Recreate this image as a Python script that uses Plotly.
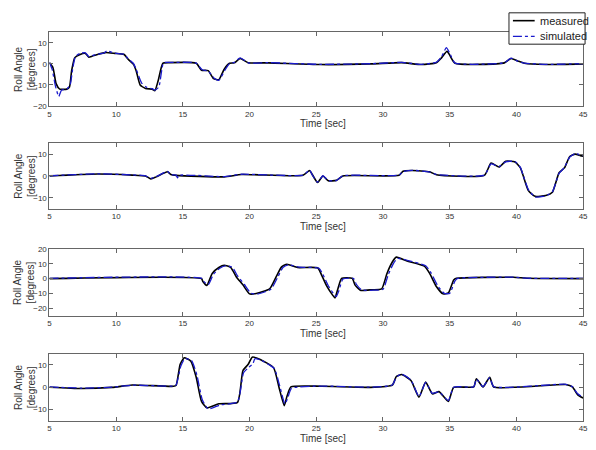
import plotly.graph_objects as go

# ---------------- data ----------------
t1_meas = [5, 5.26, 5.5, 5.77, 6.3, 6.5, 6.67, 6.9, 7.3, 7.7, 7.95, 8.2, 8.6, 9.2, 9.9, 10.6, 10.9, 11.3, 11.5, 11.8, 12.2, 12.7, 12.9, 13.15, 13.5, 14, 16, 16.4, 16.9, 17.3, 17.7, 18.1, 18.5, 18.85, 19.3, 19.9, 21.4, 25.3, 29.1, 31.4, 32.9, 34, 34.4, 34.8, 35, 35.4, 39.1, 39.6, 40.1, 40.6, 42.2, 45]
v1_meas = [0.5, -1.7, -9.4, -12, -12, -11, -3, 3, 4.5, 5, 3.2, 3.7, 4.5, 5.4, 5, 4.5, 2.2, -0.2, -3.2, -10, -11.7, -12, -12.8, -8, 0.3, 0.6, 0.3, -3, -3.2, -7, -7.5, -2.5, 0.3, 0.5, 2.6, 0.6, 0.5, -0.3, 0, 0.6, -0.3, 0.6, 3, 6, 4.2, 0.3, 0.5, 2.6, 1.4, 0.3, -0.3, 0]
t1_sim = [5, 5.2, 5.45, 5.7, 5.9, 6.3, 6.55, 6.75, 6.95, 7.3, 7.7, 7.95, 8.2, 8.6, 9.1, 9.3, 9.9, 10.6, 10.9, 11.3, 11.5, 11.9, 12.3, 12.7, 12.9, 13.2, 13.55, 14, 16, 16.45, 16.9, 17.35, 17.7, 18.15, 18.5, 18.85, 19.3, 19.9, 21.4, 25.3, 29.1, 31.4, 32.9, 34, 34.4, 34.75, 35.05, 35.4, 39.1, 39.6, 40.1, 40.6, 42.2, 45]
v1_sim = [0.8, -2.5, -10.5, -15.5, -12.5, -12, -10, -2, 3.5, 5, 5.3, 3.5, 3.9, 4.6, 5.2, 6.2, 5.1, 4.6, 2.5, 0.2, -2.5, -9, -11.2, -11.8, -12.5, -11, 0.5, 0.7, 0.4, -2.8, -3.4, -6.8, -7.8, -3, 0.2, 0.7, 2.9, 0.5, 0.6, -0.2, 0.1, 0.7, -0.2, 0.8, 3.5, 7.8, 4.5, 0.4, 0.6, 2.8, 1.3, 0.4, -0.2, 0.1]

t2_meas = [5, 8.6, 11.2, 12.2, 12.6, 13, 13.85, 14.1, 14.5, 18.1, 19.4, 24, 24.5, 24.7, 25.1, 25.5, 25.9, 26.5, 27, 31.2, 31.5, 32.2, 33.5, 34, 37.6, 38.1, 38.7, 39.2, 39.9, 40.3, 40.5, 40.9, 41.4, 42.2, 42.7, 43.2, 43.6, 44, 44.4, 44.8, 45]
v2_meas = [0, 0.9, 0.4, 0, -1.3, -0.4, 1.9, 0.7, 0.3, -0.4, 0.7, 0.3, 2.5, 0.7, -3, 0, -2.2, -2, 0, 0.3, 2.2, 2.5, 1.9, 0.6, 0.3, 5.9, 4.1, 6.7, 6.4, 3.7, 0.3, -6.7, -9.3, -8.9, -7.4, 1.5, 3.7, 8.9, 10, 9.3, 9]
t2_sim = [5, 8.6, 11.2, 12.2, 12.6, 13, 13.85, 14.1, 14.5, 14.6, 14.7, 18.1, 19.4, 24, 24.5, 24.7, 25.1, 25.5, 25.9, 26.5, 27, 31.2, 31.5, 32.2, 33.5, 34, 37.6, 38.1, 38.7, 39.2, 39.9, 40.3, 40.5, 40.9, 41.4, 42.2, 42.7, 43.2, 43.6, 44, 44.4, 44.8, 45]
v2_sim = [0.1, 1.0, 0.5, 0.1, -1.1, -0.3, 2.1, 0.6, 0.4, -0.9, 0.3, -0.3, 0.8, 0.4, 2.7, 0.5, -2.8, 0.1, -2.0, -2.1, 0.1, 0.4, 2.0, 2.6, 1.8, 0.7, 0.4, 5.5, 4.3, 6.5, 6.6, 3.9, 0.5, -6.2, -9.6, -9.1, -7.2, 1.2, 3.9, 8.6, 10.2, 9.6, 9.2]

t3_meas = [5, 16.4, 16.5, 16.8, 17.2, 17.7, 18.1, 18.6, 19, 19.5, 20, 20.5, 21.5, 22, 22.4, 22.8, 23.6, 25.1, 25.4, 25.8, 26.2, 26.4, 26.6, 26.9, 27.7, 27.9, 28.3, 29.2, 29.9, 30.3, 30.7, 31, 31.8, 33.1, 33.5, 34, 34.5, 34.9, 35.3, 35.5, 39.8, 40.8, 45]
v3_meas = [0, 0, -2, -4.6, 3.5, 7.5, 9, 7.5, 1.3, -4.2, -10.3, -10, -7, 1.3, 7.9, 9.7, 7.5, 7.3, 2.4, -5.3, -10.8, -13, -7.5, 0.2, 0.2, -4.2, -7.9, -7.5, -7, 3.5, 11.2, 14.5, 11.9, 8.4, 3.5, -5.3, -10.3, -9.7, -0.9, 0.2, 0.9, 0.2, 0]
t3_sim = [5, 16.45, 16.6, 16.9, 17.3, 17.8, 18.2, 18.7, 19.1, 19.6, 20.1, 20.6, 21.6, 22.1, 22.5, 22.9, 23.7, 25.2, 25.5, 25.9, 26.3, 26.5, 26.7, 27.0, 27.8, 28.0, 28.4, 29.3, 30.0, 30.4, 30.8, 31.1, 31.9, 33.2, 33.6, 34.1, 34.6, 35.0, 35.4, 35.6, 39.8, 40.8, 45]
v3_sim = [0.2, 0.1, -2.2, -4.2, 3.0, 7.2, 8.6, 7.7, 1.8, -3.8, -9.8, -10.4, -7.2, 0.8, 7.5, 9.4, 7.8, 7.0, 2.8, -4.8, -10.2, -12.2, -8.0, -0.3, 0.1, -3.8, -7.6, -7.8, -7.2, 2.8, 10.5, 13.6, 12.2, 8.7, 3.9, -4.8, -10.0, -10.0, -1.5, 0.1, 1.0, 0.3, 0.1]

t4_meas = [5, 7.4, 9.7, 11.2, 14.3, 14.5, 14.8, 15.1, 15.6, 16, 16.4, 16.8, 17.7, 19.1, 19.5, 19.9, 20.2, 20.8, 21.8, 22.2, 22.6, 22.8, 23.1, 25.4, 29, 30.7, 31, 31.4, 32.1, 32.7, 33.2, 33.7, 34.2, 34.9, 35.3, 36.8, 37, 37.5, 38, 38.3, 43.7, 44.2, 44.6, 45]
v4_meas = [0, -0.6, -0.1, 1, 0.4, 0.9, 10.3, 13.2, 11.7, 4.5, -6.4, -9.3, -7.5, -6.8, 7.4, 10.3, 13.5, 12.5, 8.8, 0.1, -8.3, -4.2, 0.1, 0.4, -0.1, 0.9, 4.8, 5.7, 3, -4.5, 2.3, -3, -2, -6.4, -0.1, 0.1, 3.8, 0.1, 4.5, 0.1, 1.2, 0.1, -3.5, -4.9]
t4_sim = [5, 7.4, 9.7, 11.2, 14.3, 14.5, 14.85, 15.15, 15.65, 16.05, 16.45, 16.9, 17.8, 19.1, 19.55, 19.95, 20.25, 20.4, 20.85, 21.85, 22.25, 22.65, 22.85, 23.15, 25.4, 29, 30.7, 31, 31.4, 32.1, 32.7, 33.2, 33.7, 34.2, 34.9, 35.3, 36.8, 37, 37.5, 38, 38.3, 43.7, 44.2, 44.6, 45]
v4_sim = [0.1, -0.4, 0, 0.9, 0.5, 1.0, 9.5, 12.8, 12.0, 5.5, -5.5, -9.8, -8.0, -6.6, 6.5, 9.0, 10.5, 12.8, 12.2, 8.4, 0.8, -7.6, -5.0, -0.5, 0.5, 0, 1.0, 4.5, 5.9, 3.2, -4.2, 2.1, -2.8, -2.1, -6.0, 0, 0.2, 3.6, 0.2, 4.3, 0.2, 1.3, 0.2, -3.0, -4.6]

y_ranges = [[-20, 15], [-15, 15], [-25, 20], [-15, 15]]
y_ticks = [[-20, -10, 0, 10], [-10, 0, 10], [-20, -10, 0, 10, 20], [-10, 0, 10]]
x_ticks = [5, 10, 15, 20, 25, 30, 35, 40, 45]
series = [(t1_meas, v1_meas, t1_sim, v1_sim),
          (t2_meas, v2_meas, t2_sim, v2_sim),
          (t3_meas, v3_meas, t3_sim, v3_sim),
          (t4_meas, v4_meas, t4_sim, v4_sim)]
legend_names = ["measured", "simulated"]
x_title = "Time [sec]"
y_title = "Roll Angle<br>[degrees]"

# ---------------- styles / layout (pixels) ----------------
W, H = 596, 450
x0, x1 = 48, 588
rows_px = [(29, 104), (142, 209), (250, 318), (357, 425)]
TXT = "#333"
styles = [dict(color="black", width=1.6, dash="solid"),
          dict(color="#1a1acc", width=1.3, dash="dashdot")]

fig = go.Figure()
layout = dict(
    width=W, height=H, margin=dict(l=0, r=0, t=0, b=0),
    paper_bgcolor="white", plot_bgcolor="white",
    font=dict(family="Liberation Sans, Arial, sans-serif", size=9, color=TXT),
    showlegend=False,
)
annotations = []
shapes = []

for i, (tm, vm, ts, vs) in enumerate(series):
    n = i + 1
    xa = "x" if n == 1 else f"x{n}"
    ya = "y" if n == 1 else f"y{n}"
    for (tt, vv), name, st in zip([(tm, vm), (ts, vs)], legend_names, styles):
        fig.add_trace(go.Scatter(x=tt, y=vv, mode="lines", name=name,
                                 line=dict(shape="spline", smoothing=0.5, **st),
                                 xaxis=xa, yaxis=ya))
    top, bot = rows_px[i]
    axis_common = dict(showline=True, linecolor="#666", linewidth=1, mirror="ticks",
                       ticks="inside", ticklen=4, tickcolor="#666",
                       showgrid=False, zeroline=False,
                       tickfont=dict(size=8, color=TXT))
    layout["xaxis" if n == 1 else f"xaxis{n}"] = dict(
        domain=[x0 / W, x1 / W], range=[5, 45], tickvals=x_ticks,
        anchor=ya, **axis_common)
    layout["yaxis" if n == 1 else f"yaxis{n}"] = dict(
        domain=[1 - bot / H, 1 - top / H], range=y_ranges[i], tickvals=y_ticks[i],
        anchor=xa, **axis_common)
    annotations.append(dict(text=x_title, xref="paper", x=325 / W,
                            yref="paper", y=1 - (bot + 18) / H, yanchor="middle",
                            showarrow=False, font=dict(size=10, color=TXT)))
    annotations.append(dict(text=y_title, xref="paper", x=23 / W, xanchor="center",
                            yref="paper", y=1 - (top + bot) / 2 / H, yanchor="middle",
                            textangle=-90, showarrow=False,
                            font=dict(size=10, color=TXT)))

# legend box (drawn as layout decoration, MATLAB style)
lg_l, lg_r, lg_t, lg_b = 513, 590, 9, 41
shapes.append(dict(type="rect", xref="paper", yref="paper", layer="above",
                   x0=lg_l / W, x1=lg_r / W, y0=1 - lg_b / H, y1=1 - lg_t / H,
                   fillcolor="white", line=dict(color="#222", width=1)))
for k, (name, st) in enumerate(zip(legend_names, styles)):
    yy = 1 - (17 + 16 * k) / H
    shapes.append(dict(type="line", xref="paper", yref="paper", layer="above",
                       x0=517 / W, x1=539 / W, y0=yy, y1=yy,
                       line=dict(color=st["color"], width=st["width"], dash=st["dash"])))
    annotations.append(dict(text=name, xref="paper", x=542 / W, xanchor="left",
                            yref="paper", y=yy, yanchor="middle", showarrow=False,
                            font=dict(size=11, color="#222")))

layout["annotations"] = annotations
layout["shapes"] = shapes
fig.update_layout(**layout)
fig.write_html("out.html", config={"displayModeBar": False},
               post_script="document.body.style.margin='0';document.body.style.padding='0';")
